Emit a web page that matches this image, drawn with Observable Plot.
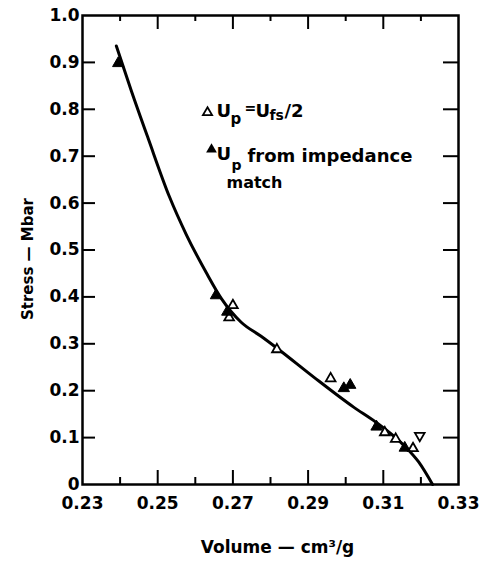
<!DOCTYPE html>
<html><head><meta charset="utf-8">
<script src="https://cdn.jsdelivr.net/npm/d3@7"></script>
<script src="https://cdn.jsdelivr.net/npm/@observablehq/plot@0.6"></script>
<style>body{margin:0;background:#fff;} svg{display:block;}</style>
</head><body><div id="chart"></div>
<script>
// Fitted curve
const curveVolume = [0.2390, 0.2430, 0.2475, 0.2531, 0.2576, 0.2629, 0.2669, 0.2722, 0.2775, 0.2820, 0.2915, 0.3021, 0.3080, 0.3154, 0.3194, 0.3231];
const curveStress = [0.935, 0.839, 0.737, 0.614, 0.533, 0.452, 0.397, 0.346, 0.316, 0.289, 0.229, 0.165, 0.133, 0.084, 0.048, 0.0];
// Up = Ufs/2 (open triangles)
const openVolume = [0.2700, 0.2690, 0.2817, 0.2960, 0.3104, 0.3133, 0.3179];
const openStress = [0.382, 0.356, 0.288, 0.226, 0.111, 0.097, 0.077];
// open, drawn inverted
const invertedVolume = [0.3197];
const invertedStress = [0.104];
// Up from impedance match (filled triangles)
const filledVolume = [0.2395, 0.2655, 0.2685, 0.2995, 0.3012, 0.3082, 0.3157];
const filledStress = [0.898, 0.403, 0.368, 0.205, 0.212, 0.123, 0.078];
// ticks
const xTickLabels = [0.23, 0.25, 0.27, 0.29, 0.31, 0.33];
const xMajorTicks = [0.25, 0.27, 0.29, 0.31];
const xMinorTicks = [0.24, 0.26, 0.28, 0.30, 0.32];
const yTickLabels = [0, 0.1, 0.2, 0.3, 0.4, 0.5, 0.6, 0.7, 0.8, 0.9, 1.0];
const yInnerTicks = [0.1, 0.2, 0.3, 0.4, 0.5, 0.6, 0.7, 0.8, 0.9];

const curve = curveVolume.map((v, i) => ({v, s: curveStress[i]}));
const open = openVolume.map((v, i) => ({v, s: openStress[i]}));
const inverted = invertedVolume.map((v, i) => ({v, s: invertedStress[i]}));
const filled = filledVolume.map((v, i) => ({v, s: filledStress[i]}));

const WIDTH = 482, HEIGHT = 562, ML = 82, MR = 24, MT = 15, MB = 78;
const FRAME_W = WIDTH - ML - MR, FRAME_H = HEIGHT - MT - MB;
const legendText = (s, X, Y, size) => Plot.text([s], {text: d => d, frameAnchor: "top-left", dx: X - ML, dy: Y - MT,
  textAnchor: "start", lineAnchor: "bottom", fontSize: size, fontWeight: "bold", fill: "black"});
const tickStyle = {stroke: "black", strokeOpacity: 1, strokeWidth: 2};

const chart = Plot.plot({
  width: WIDTH, height: HEIGHT,
  marginLeft: ML, marginRight: MR, marginTop: MT, marginBottom: MB,
  style: {fontFamily: "DejaVu Sans", fontSize: "17px", fontWeight: "bold", color: "black", background: "white"},
  x: {domain: [0.23, 0.33]},
  y: {domain: [0, 1]},
  marks: [
    Plot.frame({stroke: "black", fill: "none", strokeWidth: 2.5}),
    Plot.line(curve, {x: "v", y: "s", curve: "monotone-x", stroke: "black", strokeWidth: 3}),
    Plot.dot(open, {x: "v", y: "s", symbol: "triangle", r: 3.6, fill: "white", stroke: "black", strokeWidth: 1.8}),
    Plot.dot(inverted, {x: "v", y: "s", symbol: "triangle", rotate: 180, r: 3.6, fill: "white", stroke: "black", strokeWidth: 1.8}),
    Plot.dot(filled, {x: "v", y: "s", symbol: "triangle", r: 4.2, fill: "black", stroke: "black", strokeWidth: 1}),
    // legend
    Plot.dot([0], {frameAnchor: "top-left", dx: 207 - ML, dy: 112 - MT, symbol: "triangle", r: 3.4, fill: "white", stroke: "black", strokeWidth: 1.8}),
    Plot.dot([0], {frameAnchor: "top-left", dx: 211 - ML, dy: 149 - MT, symbol: "triangle", r: 4, fill: "black"}),
    legendText("U", 216, 116, 18), legendText("p", 230, 123, 15), legendText("=", 244, 112, 14),
    legendText("U", 255, 116, 18), legendText("fs", 269, 119, 14), legendText("/2", 284, 116, 18),
    legendText("U", 216, 159, 18), legendText("p", 231, 169, 14), legendText("from impedance", 247, 161, 18), legendText("match", 226, 187, 16),
    // axes
    Plot.axisX(xTickLabels, {tickSize: 0, tickPadding: 12, tickFormat: d => d.toFixed(2), fontSize: 17, fontWeight: "bold", label: null}),
    Plot.axisY(yTickLabels, {tickSize: 0, tickPadding: 3, tickFormat: d => d === 0 ? "0" : d.toFixed(1), fontSize: 17, fontWeight: "bold", label: null}),
    Plot.text(["Stress — Mbar"], {frameAnchor: "left", dx: -54, dy: 9, rotate: -90, textAnchor: "middle", lineAnchor: "middle", fontSize: 15, fontWeight: "bold"}),
    Plot.text(["Volume — cm³/g"], {frameAnchor: "bottom", dx: 7, dy: 63, textAnchor: "middle", lineAnchor: "middle", fontSize: 17, fontWeight: "bold"}),
    // inward frame ticks, drawn last
    Plot.ruleY(yInnerTicks, {y: d => d, insetRight: FRAME_W - 13, ...tickStyle}),
    Plot.ruleY(yInnerTicks, {y: d => d, insetLeft: FRAME_W - 15, ...tickStyle}),
    Plot.ruleX(xMajorTicks, {x: d => d, insetTop: FRAME_H - 14, ...tickStyle}),
    Plot.ruleX(xMinorTicks, {x: d => d, insetTop: FRAME_H - 7, ...tickStyle}),
    Plot.ruleX(xMajorTicks, {x: d => d, insetBottom: FRAME_H - 14, ...tickStyle}),
    Plot.ruleX(xMinorTicks, {x: d => d, insetBottom: FRAME_H - 6, ...tickStyle})
  ]
});
document.getElementById("chart").appendChild(chart);
</script></body></html>
